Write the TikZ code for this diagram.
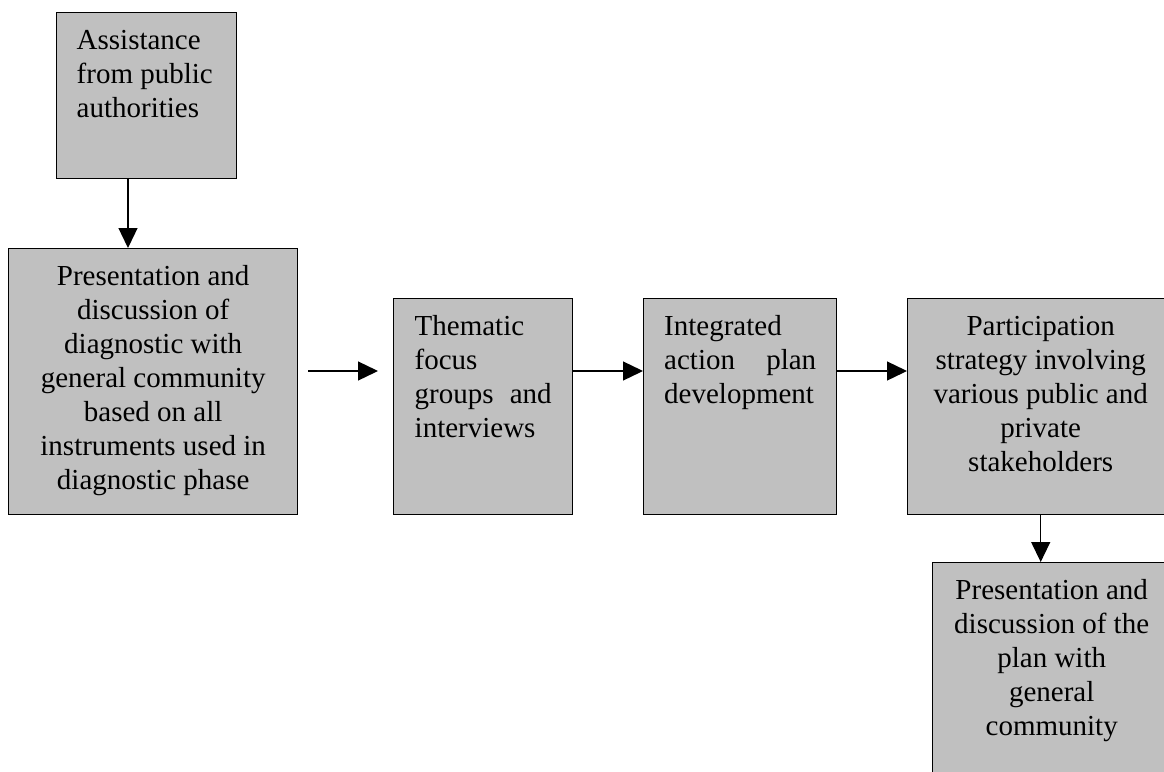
\documentclass[tikz,border=0pt]{standalone}
\usepackage{fontspec}
\setmainfont{Liberation Serif}
\usetikzlibrary{arrows.meta,calc}
\definecolor{boxgray}{RGB}{192,192,192}
\hyphenpenalty=10000 \exhyphenpenalty=10000 \tolerance=10000 \hbadness=10000
\newcommand{\firstline}{\rule{0pt}{37pt}}
\newcommand{\boxtxt}[3]{\parbox[t][#2][t]{#1}{#3}}
\begin{document}
\begin{tikzpicture}[x=1pt,y=-1pt,
  boxnode/.style={draw, fill=boxgray, line width=1.4pt, inner ysep=0pt, anchor=north west,
    font=\fontsize{29pt}{34pt}\selectfont},
  arr/.style={line width=1.3pt, -{Triangle[length=20pt,width=19pt]}}]
\useasboundingbox (0,0) rectangle (1164,771);
\clip (0,0) rectangle (1164,771);
\node[boxnode, inner xsep=20pt] (A) at (56,12)
  {\boxtxt{140pt}{166pt}{\raggedright\firstline Assistance from public authorities}};
\node[boxnode, inner xsep=19.5pt] (B) at (8,248)
  {\boxtxt{250pt}{266pt}{\centering\firstline Presentation and discussion of diagnostic with general community based on all instruments used in diagnostic phase}};
\node[boxnode, inner xsep=21pt] (C) at (393,298)
  {\boxtxt{137pt}{216pt}{\firstline Thematic focus groups and interviews}};
\node[boxnode, inner xsep=20.5pt] (D) at (643,298)
  {\boxtxt{152pt}{216pt}{\firstline Integrated action plan development}};
\node[boxnode, inner xsep=21pt] (E) at (907,298)
  {\boxtxt{224pt}{216pt}{\centering\firstline Participation strategy involving various public and private stakeholders}};
\node[boxnode, inner xsep=20pt] (F) at (932,562)
  {\boxtxt{198pt}{250pt}{\centering\firstline Presentation and discussion of the plan with general community}};
\coordinate (ab) at (128,0);
\coordinate (row) at (0,371);
\draw[arr] (A.south -| ab) -- (B.north -| ab);
\draw[arr] ($(B.east |- row)+(10pt,0)$) -- ($(C.west |- row)+(-15pt,0)$);
\draw[arr] (C.east |- row) -- (D.west |- row);
\draw[arr] (D.east |- row) -- (E.west |- row);
\draw[arr] (E.south) -- (E.south |- F.north);
\end{tikzpicture}
\end{document}
